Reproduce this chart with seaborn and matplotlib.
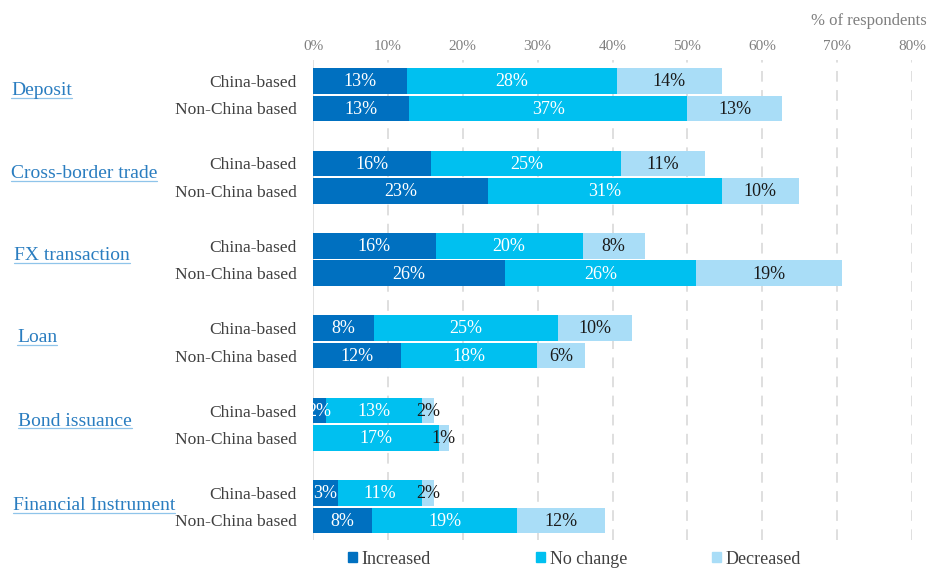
import matplotlib
matplotlib.use("Agg")
import matplotlib.pyplot as plt
import matplotlib.transforms as mtransforms
from matplotlib.lines import Line2D
from matplotlib.patches import Patch
import seaborn as sns
import pandas as pd
import numpy as np

# ---------------- data ----------------
groups = ["Deposit", "Cross-border trade", "FX transaction", "Loan",
          "Bond issuance", "Financial Instrument"]
segments = ["China-based", "Non-China based"]
series = ["Increased", "No change", "Decreased"]
increased = [12.6, 12.8, 15.8, 23.4, 16.4, 25.6, 8.1, 11.7, 1.7, 0.0, 3.3, 7.9]
no_change = [28.0, 37.2, 25.4, 31.2, 19.6, 25.6, 24.6, 18.2, 12.8, 16.8, 11.2, 19.4]
decreased = [14.0, 12.7, 11.1, 10.3, 8.3, 19.4, 9.9, 6.4, 1.7, 1.3, 1.7, 11.7]
x_ticks = [0, 10, 20, 30, 40, 50, 60, 70, 80]
x_tick_labels = ["0%", "10%", "20%", "30%", "40%", "50%", "60%", "70%", "80%"]
axis_note = "% of respondents"

# ---------------- style ----------------
c_inc = "#0070C0"
c_nc = "#00C0F0"
c_dec = "#A9DDF7"
c_group = "#2A7DC0"
c_under = "#8FC4EA"
FONT = ["Liberation Serif", "DejaVu Serif"]

sns.set_theme(style="white")
plt.rcParams["font.family"] = FONT

W, H = 927, 568
fig = plt.figure(figsize=(W / 100, H / 100), dpi=100)
ax = fig.add_axes([313 / W, 1 - 540 / H, (912 - 313) / W, (540 - 60) / H])

# positions: each group has two rows, gap of one row between groups
pos = []
for gi in range(len(groups)):
    pos += [3 * gi, 3 * gi + 1]
pos = np.array(pos, dtype=float)

inc = np.array(increased)
nc = np.array(no_change)
dec = np.array(decreased)
df = pd.DataFrame({
    "pos": pos,
    "seg": segments * len(groups),
    "c1": inc,
    "c2": inc + nc,
    "c3": inc + nc + dec,
})

# stacked bars via overlay (largest cumulative first)
for col, color in [("c3", c_dec), ("c2", c_nc), ("c1", c_inc)]:
    sns.barplot(data=df, x=col, y="pos", orient="h", native_scale=True,
                color=color, saturation=1, width=0.93, errorbar=None,
                linewidth=0, ax=ax, zorder=3)

# grid lines
for xv in x_ticks[1:]:
    ax.axvline(xv, color="#D6D6D6", lw=1.1, ls=(0, (7, 5.5)), zorder=1)
ax.axvline(0, color="#D9D9D9", lw=1.1, zorder=1)

ax.set_xlim(0, 80)
ax.set_ylim(16.71, -0.76)
for s in ax.spines.values():
    s.set_visible(False)
ax.set_xlabel("")
ax.set_ylabel("")

ax.xaxis.tick_top()
ax.set_xticks(x_ticks)
ax.set_xticklabels(x_tick_labels, fontsize=11, color="#7F7F7F")
ax.tick_params(axis="x", length=0, pad=5)
ax.set_yticks(pos)
ax.set_yticklabels(segments * len(groups), fontsize=12.6, color="#404040")
ax.tick_params(axis="y", length=0, pad=11.5)

# segment labels
starts = [np.zeros_like(inc), inc, inc + nc]
vals = [inc, nc, dec]
tcolors = ["white", "white", "#1A1A1A"]
for st, vv, tc in zip(starts, vals, tcolors):
    for p, s0, v in zip(pos, st, vv):
        if v <= 0:
            continue
        ax.text(s0 + v / 2, p + 0.03, f"{round(v):.0f}%", ha="center", va="center",
                fontsize=13, color=tc, zorder=5)

# group labels (underlined, hyperlink style)
blend = mtransforms.blended_transform_factory(fig.transFigure, ax.transData)
label_x_px = [11, 11, 14, 17, 18, 13]
label_dy = [0.52, 0.55, 0.52, 0.52, 0.55, 0.62]
gtexts = []
for gi, (g, lx, dy) in enumerate(zip(groups, label_x_px, label_dy)):
    t = fig.text(lx / W, 3 * gi + dy, g, transform=blend, ha="left",
                 va="baseline", fontsize=14, color=c_group)
    gtexts.append((t, 3 * gi + dy))

fig.text(0.9995, 1 - 21 / H, axis_note, ha="right", va="center",
         fontsize=12, color="#7F7F7F")

# legend: three entries at fixed spots
leg_x = [348, 536, 712]
for name, color, lx in zip(series, [c_inc, c_nc, c_dec], leg_x):
    lg = fig.legend(handles=[Patch(color=color, label=name)], loc="center left",
                    bbox_to_anchor=(lx / W, 1 - 559 / H), frameon=False,
                    fontsize=13, handlelength=0.5, handleheight=0.5,
                    handletextpad=0.25, borderpad=0, borderaxespad=0)
    for txt in lg.get_texts():
        txt.set_color("#404040")

# underline the group labels
fig.canvas.draw()
r = fig.canvas.get_renderer()
for t, yb in gtexts:
    bb = t.get_window_extent(r)
    ydisp = blend.transform((0, yb))[1] - 2.5
    yf = ydisp / H
    fig.add_artist(Line2D([bb.x0 / W, bb.x1 / W], [yf, yf],
                          transform=fig.transFigure, color=c_under, lw=0.9))

fig.savefig("out.png", dpi=100)
